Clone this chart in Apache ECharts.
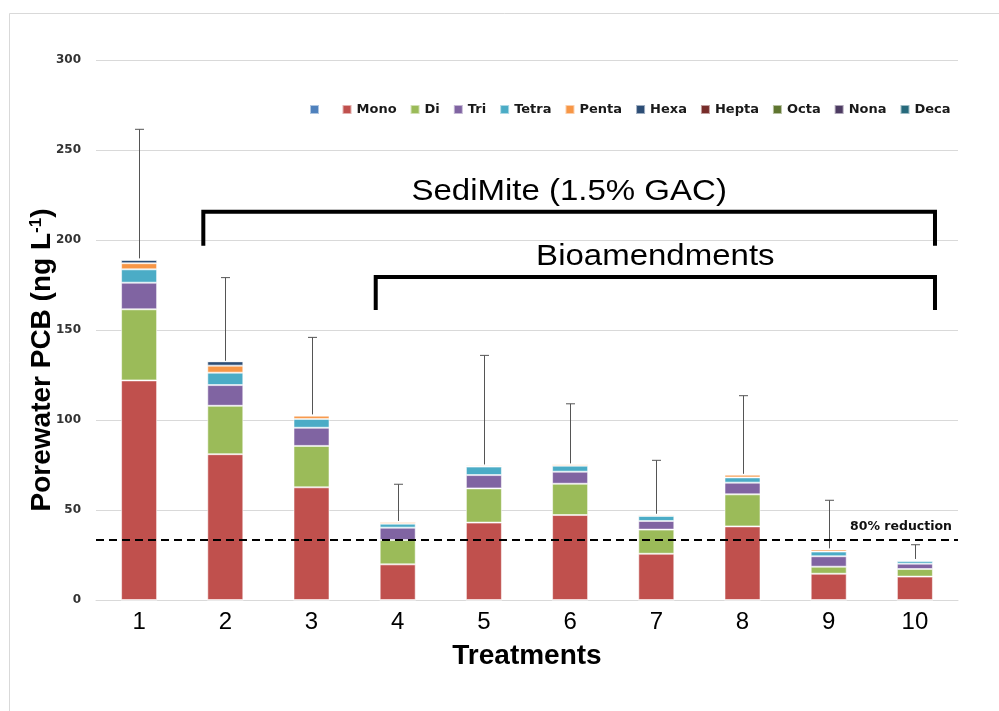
<!DOCTYPE html>
<html>
<head>
<meta charset="utf-8">
<title>Porewater PCB by treatment</title>
<script src="https://cdn.jsdelivr.net/npm/echarts@6/dist/echarts.min.js"></script>
<style>
  html, body { margin: 0; padding: 0; background: #fff; }
  #chart { width: 999px; height: 711px; }
</style>
</head>
<body>
<div id="chart"></div>
<script>
// Treatments on the x axis
const treatments = ['1', '2', '3', '4', '5', '6', '7', '8', '9', '10'];

// Homologue group concentrations (ng/L), stacked bottom to top
const mono  = [122, 81, 62.6, 19.8, 43, 47.2, 25.7, 40.9, 14.6, 13];
const di    = [39.5, 26.9, 23, 13.5, 19, 17.4, 13.4, 17.8, 3.9, 4.2];
const tri   = [14.8, 11.5, 10.1, 6.9, 7.4, 6.7, 4.8, 6.5, 5.8, 3];
const tetra = [7.4, 6.9, 4.9, 2.2, 4.7, 3.3, 2.8, 2.9, 2.6, 1.5];
const penta = [3.4, 3.9, 1.8, 0.9, 0.7, 0.8, 0.7, 1.5, 1.2, 0.4];
const hexa  = [1.8, 2.4, 0.5, 0.5, 0.4, 0.4, 0.4, 0.4, 0.5, 0.6];
const hepta = [0.4, 0.1, 0.1, 0.1, 0.1, 0.1, 0.1, 0.1, 0.1, 0.1];
const octa  = [0.2, 0.1, 0, 0, 0, 0, 0, 0, 0, 0];
const nona  = [0.2, 0.1, 0.1, 0, 0, 0, 0, 0, 0, 0];
const deca  = [0.1, 0, 0, 0, 0, 0, 0, 0, 0, 0];

// Standard deviation of the total, drawn upward from the top of each stack
const totalSD = [71.7, 46.2, 42.8, 20.4, 60.6, 33.1, 29.7, 43.4, 26.7, 7.9];

// Target line: 80% reduction of porewater PCB
const reductionLevel = 33.7;
const reductionLabel = '80% reduction';

// Treatment groupings shown as brackets above the bars
const groupNames = ['SediMite (1.5% GAC)', 'Bioamendments'];
const groupFirst = ['2', '4'];
const groupLast  = ['10', '10'];

// y-axis ticks
const yMin = 0, yMax = 300, yStep = 50;

const homologues = [
  { name: ' ',     color: '#4F81BD', values: null },
  { name: 'Mono',  color: '#C0504D', values: mono },
  { name: 'Di',    color: '#9BBB59', values: di },
  { name: 'Tri',   color: '#8064A2', values: tri },
  { name: 'Tetra', color: '#4BACC6', values: tetra },
  { name: 'Penta', color: '#F79646', values: penta },
  { name: 'Hexa',  color: '#2C4D75', values: hexa },
  { name: 'Hepta', color: '#772C2A', values: hepta },
  { name: 'Octa',  color: '#5F7530', values: octa },
  { name: 'Nona',  color: '#4D3B62', values: nona },
  { name: 'Deca',  color: '#276A7C', values: deca }
];

const totals = treatments.map((_, i) =>
  homologues.reduce((s, h) => s + (h.values ? h.values[i] : 0), 0));

const errorData = treatments.map((_, i) => [i, totals[i], totals[i] + totalSD[i]]);

const bracketData = groupNames.map((_, k) => [
  treatments.indexOf(groupFirst[k]),
  treatments.indexOf(groupLast[k])
]);
// bracket heights in axis units: [bar top, foot]
const bracketLevels = [[215.7, 196.8], [179.4, 161.1]];

const chart = echarts.init(document.getElementById('chart'), null, { renderer: 'canvas' });

const barSeries = homologues.map((h) => {
  const s = {
    name: h.name,
    type: 'bar',
    stack: 'total',
    barWidth: 36,
    data: h.values ? h.values.slice() : treatments.map(() => 0),
    itemStyle: { color: h.color, borderColor: 'rgba(255,255,255,0.55)', borderWidth: 1 },
    emphasis: { disabled: true },
    z: 2
  };
  if (h.name === 'Mono') {
    s.markLine = {
      silent: true,
      symbol: 'none',
      z: 5,
      data: [{ yAxis: reductionLevel }],
      lineStyle: { color: '#000', type: [8, 5], width: 2 },
      label: {
        position: 'insideEndTop',
        formatter: reductionLabel,
        fontFamily: 'DejaVu Sans',
        fontWeight: 'bold',
        fontSize: 12.5,
        color: '#111',
        distance: 6
      }
    };
  }
  return s;
});

const option = {
  backgroundColor: '#fff',
  animation: false,
  textStyle: { fontFamily: 'Liberation Sans' },
  legend: {
    data: homologues.map(h => h.name),
    left: 309,
    top: 103,
    padding: 0,
    icon: 'rect',
    itemWidth: 9,
    itemHeight: 9,
    itemGap: 13,
    selectedMode: false,
    textStyle: {
      fontFamily: 'DejaVu Sans',
      fontWeight: 'bold',
      fontSize: 13,
      color: '#1a1a1a'
    }
  },
  grid: { left: 96, right: 41, top: 60, bottom: 111, containLabel: false },
  xAxis: [
    {
      type: 'category',
      data: treatments,
      axisLine: { lineStyle: { color: '#d9d9d9', width: 1 } },
      axisTick: { show: false },
      axisLabel: {
        fontFamily: 'Liberation Sans',
        fontSize: 24,
        color: '#000',
        margin: 10
      },
      name: 'Treatments',
      nameLocation: 'middle',
      nameGap: 42,
      nameTextStyle: {
        fontFamily: 'Liberation Sans',
        fontWeight: 'bold',
        fontSize: 28,
        color: '#000'
      }
    },
    {
      type: 'value',
      min: -0.5,
      max: 9.5,
      show: false
    }
  ],
  yAxis: {
    type: 'value',
    min: yMin,
    max: yMax,
    interval: yStep,
    axisLine: { show: false },
    axisTick: { show: false },
    splitLine: { lineStyle: { color: '#d9d9d9', width: 1 } },
    axisLabel: {
      fontFamily: 'DejaVu Sans',
      fontWeight: 'bold',
      fontSize: 12,
      color: '#333',
      margin: 15
    }
  },
  graphic: [
    {
      type: 'polyline',
      silent: true,
      shape: { points: [[9.5, 711], [9.5, 13.5], [999, 13.5]] },
      style: { stroke: '#d9d9d9', lineWidth: 1, fill: null }
    },
    {
      type: 'text',
      silent: true,
      x: 42,
      y: 360,
      rotation: Math.PI / 2,
      style: {
        text: 'Porewater PCB (ng L{sup|-1})',
        font: 'bold 28px "Liberation Sans"',
        fill: '#000',
        align: 'center',
        verticalAlign: 'middle',
        rich: {
          sup: {
            font: 'bold 17px "Liberation Sans"',
            fill: '#000',
            verticalAlign: 'top',
            padding: [0, 0, 12, 0]
          }
        }
      }
    }
  ],
  series: barSeries.concat([
    {
      name: 'SD',
      type: 'custom',
      xAxisIndex: 0,
      yAxisIndex: 0,
      z: 4,
      silent: true,
      data: errorData,
      encode: { x: 0, y: [1, 2] },
      renderItem: function (params, api) {
        const base = api.coord([api.value(0), api.value(1)]);
        const top = api.coord([api.value(0), api.value(2)]);
        const x = Math.round(base[0]) + 0.5;
        const half = 4.5;
        return {
          type: 'group',
          children: [
            { type: 'line', shape: { x1: x, y1: base[1], x2: x, y2: top[1] },
              style: { stroke: '#555', lineWidth: 1 } },
            { type: 'line', shape: { x1: x - half, y1: top[1], x2: x + half, y2: top[1] },
              style: { stroke: '#555', lineWidth: 1 } }
          ]
        };
      }
    },
    {
      name: 'Groups',
      type: 'custom',
      xAxisIndex: 1,
      yAxisIndex: 0,
      z: 6,
      silent: true,
      data: bracketData,
      encode: { x: [0, 1] },
      renderItem: function (params, api) {
        const k = params.dataIndex;
        const lv = bracketLevels[k];
        const x0 = api.coord([api.value(0) - 0.255, lv[0]])[0];
        const x1 = api.coord([api.value(1) + 0.233, lv[0]])[0];
        const yTop = api.coord([0, lv[0]])[1];
        const yFoot = api.coord([0, lv[1]])[1];
        return {
          type: 'group',
          children: [
            {
              type: 'polyline',
              shape: { points: [[x0, yFoot], [x0, yTop], [x1, yTop], [x1, yFoot]] },
              style: { stroke: '#000', lineWidth: 4, fill: null, lineJoin: 'miter' }
            },
            {
              type: 'text',
              x: (x0 + x1) / 2,
              y: yTop - 20,
              scaleX: 1.1,
              style: {
                text: groupNames[k],
                font: '30px "Liberation Sans"',
                fill: '#000',
                align: 'center',
                verticalAlign: 'middle'
              }
            }
          ]
        };
      }
    }
  ])
};

chart.setOption(option);
</script>
</body>
</html>
